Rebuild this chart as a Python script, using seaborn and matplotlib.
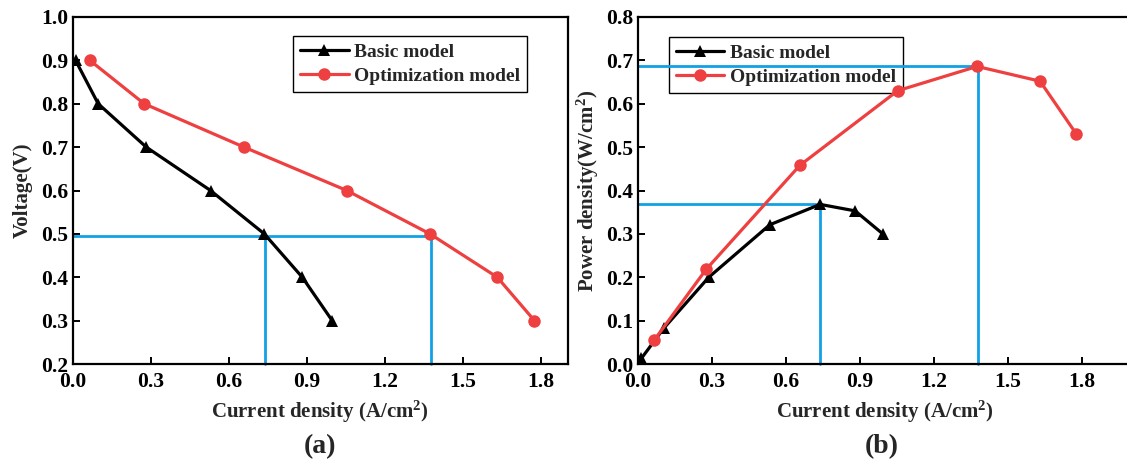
import matplotlib
matplotlib.use("Agg")
import matplotlib.pyplot as plt
import seaborn as sns
import pandas as pd

# ---- data ----
basic_current_v = [0.011, 0.098, 0.283, 0.530, 0.737, 0.883, 0.998]
basic_voltage = [0.90, 0.80, 0.70, 0.60, 0.50, 0.40, 0.30]
opt_current_v = [0.066, 0.275, 0.659, 1.054, 1.374, 1.633, 1.776]
opt_voltage = [0.90, 0.80, 0.70, 0.60, 0.50, 0.40, 0.30]

basic_current_p = [0.015, 0.105, 0.288, 0.535, 0.739, 0.881, 0.995]
basic_power = [0.013, 0.082, 0.200, 0.321, 0.368, 0.353, 0.299]
opt_current_p = [0.067, 0.277, 0.657, 1.053, 1.375, 1.630, 1.776]
opt_power = [0.055, 0.218, 0.458, 0.630, 0.686, 0.652, 0.531]

# guide lines (blue)
guide_v_x = [0.74, 1.377]
guide_v_y = 0.495
guide_p_x = [0.739, 1.38]
guide_p_y = [0.368, 0.686]

series_names = ["Basic model", "Optimization model"]
x_ticks = [0.0, 0.3, 0.6, 0.9, 1.2, 1.5, 1.8]
v_ticks = [0.2, 0.3, 0.4, 0.5, 0.6, 0.7, 0.8, 0.9, 1.0]
p_ticks = [0.0, 0.1, 0.2, 0.3, 0.4, 0.5, 0.6, 0.7, 0.8]

sns.set_theme(style="white")
plt.rcParams["font.family"] = ["Liberation Serif", "DejaVu Serif"]
plt.rcParams["font.weight"] = "bold"
plt.rcParams["axes.labelweight"] = "bold"
plt.rcParams["mathtext.fontset"] = "custom"
plt.rcParams["mathtext.rm"] = "Liberation Serif:bold"
plt.rcParams["mathtext.bf"] = "Liberation Serif:bold"
plt.rcParams["mathtext.it"] = "Liberation Serif:bold"

BLACK = "#000000"
RED = "#EE4040"
BLUE = "#12A0E6"

W, H = 1127, 468
fig = plt.figure(figsize=(W / 100, H / 100), dpi=100)

# axes positions in pixels
axA = fig.add_axes([72.7 / W, 1 - 364 / H, (568 - 72.7) / W, (364 - 17) / H])
axB = fig.add_axes([637.7 / W, 1 - 364 / H, 493.7 / W, (364 - 17) / H])

FS = 15.5

def style_axis(ax, xlim, ylim, yticks):
    ax.set_xlim(*xlim)
    ax.set_ylim(*ylim)
    ax.set_xticks(x_ticks)
    ax.set_xticklabels([f"{t:.1f}" for t in x_ticks])
    ax.set_yticks(yticks)
    ax.set_yticklabels([f"{t:.1f}" for t in yticks])
    for s in ax.spines.values():
        s.set_visible(True)
        s.set_color("black")
        s.set_linewidth(1.6)
    ax.tick_params(axis="both", direction="in", length=5, width=1.4,
                   labelsize=FS, colors="black",
                   bottom=True, left=True, top=False, right=False)
    ax.tick_params(axis="x", pad=6)
    ax.tick_params(axis="y", pad=3)
    for lab in ax.get_xticklabels() + ax.get_yticklabels():
        lab.set_fontweight("bold")
    ax.grid(False)

line_kw = dict(linewidth=2.3, markersize=9, markeredgewidth=0, sort=False,
               estimator=None)

# ---- panel (a) ----
dfa = pd.DataFrame({
    "I": basic_current_v + opt_current_v,
    "V": basic_voltage + opt_voltage,
    "model": [series_names[0]] * len(basic_voltage) + [series_names[1]] * len(opt_voltage),
})
axA.plot([0, guide_v_x[1]], [guide_v_y, guide_v_y], color=BLUE, lw=2.0, zorder=1)
for gx in guide_v_x:
    axA.plot([gx, gx], [0.2, guide_v_y], color=BLUE, lw=2.0, zorder=1, clip_on=False)
sns.lineplot(data=dfa[dfa.model == series_names[0]], x="I", y="V", ax=axA,
             color=BLACK, marker="^", label=series_names[0], **line_kw)
sns.lineplot(data=dfa[dfa.model == series_names[1]], x="I", y="V", ax=axA,
             color=RED, marker="o", label=series_names[1], **line_kw)
style_axis(axA, (0, 1.905), (0.2, 1.0), v_ticks)
axA.set_xlabel("Current density (A/cm$^\\mathbf{2}$)", fontsize=15, fontweight="bold", labelpad=5)
axA.set_ylabel("Voltage(V)", fontsize=15, fontweight="bold", labelpad=6)

# ---- panel (b) ----
dfb = pd.DataFrame({
    "I": basic_current_p + opt_current_p,
    "P": basic_power + opt_power,
    "model": [series_names[0]] * len(basic_power) + [series_names[1]] * len(opt_power),
})
for gx, gy in zip(guide_p_x, guide_p_y):
    axB.plot([0, gx], [gy, gy], color=BLUE, lw=2.0, zorder=1)
    axB.plot([gx, gx], [0, gy], color=BLUE, lw=2.0, zorder=1, clip_on=False)
sns.lineplot(data=dfb[dfb.model == series_names[0]], x="I", y="P", ax=axB,
             color=BLACK, marker="^", label=series_names[0], **line_kw)
sns.lineplot(data=dfb[dfb.model == series_names[1]], x="I", y="P", ax=axB,
             color=RED, marker="o", label=series_names[1], **line_kw)
style_axis(axB, (0, 2.0), (0.0, 0.8), p_ticks)
axB.set_xlabel("Current density (A/cm$^\\mathbf{2}$)", fontsize=15, fontweight="bold", labelpad=5)
axB.set_ylabel("Power density(W/cm$^\\mathbf{2}$)", fontsize=15, fontweight="bold", labelpad=4)

def make_legend(ax, anchor):
    leg = ax.legend(loc="upper left", bbox_to_anchor=anchor, borderaxespad=0,
                    frameon=True, fancybox=False, framealpha=1, edgecolor="black",
                    prop={"family": "Liberation Serif", "weight": "bold", "size": 14},
                    handlelength=2.5, handletextpad=0.3, labelspacing=0.35,
                    borderpad=0.35)
    leg.get_frame().set_linewidth(1.0)
    leg.set_zorder(0.5)
    return leg

make_legend(axA, (0.445, 0.945))
make_legend(axB, (0.063, 0.942))

fig.text((72.7 + 568) / 2 / W, 1 - 447 / H, "(a)", ha="center", va="center",
         fontsize=20, fontweight="bold")
fig.text((637.7 + 1131) / 2 / W - 0.002, 1 - 447 / H, "(b)", ha="center", va="center",
         fontsize=20, fontweight="bold")

fig.savefig("out.png", dpi=100)
